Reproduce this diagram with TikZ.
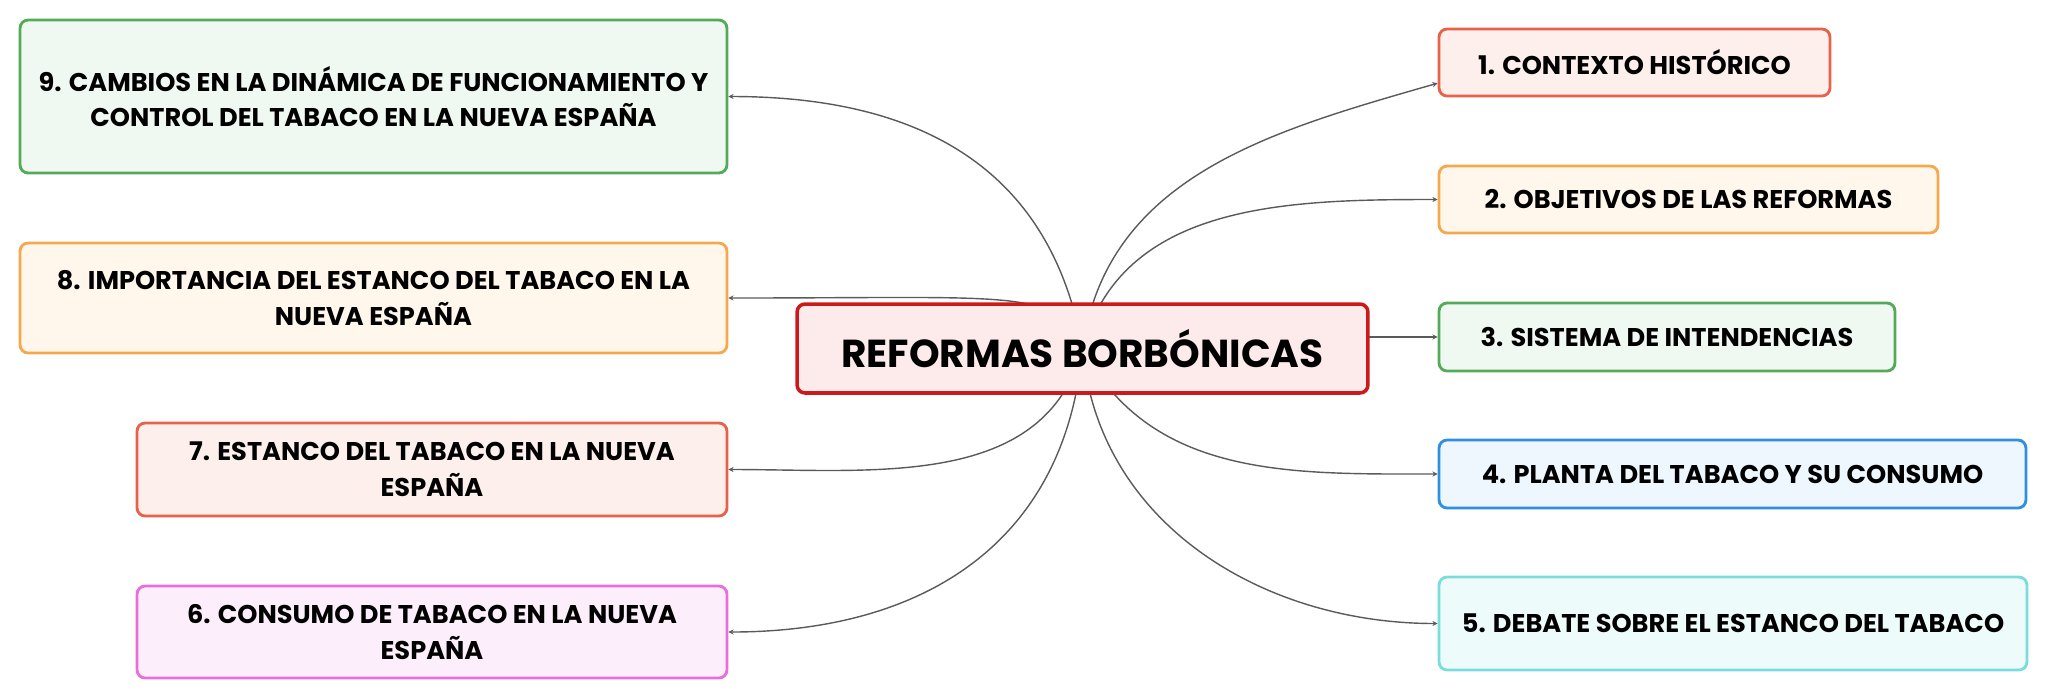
\documentclass[tikz,border=0pt]{standalone}
\usepackage{fontspec}
\setmainfont{Poppins}
\usepackage{xcolor}
\usetikzlibrary{arrows.meta,backgrounds,positioning}

\definecolor{lineGray}{HTML}{5A5A5A}
\definecolor{rootLine}{HTML}{CC1A1A}
\definecolor{rootFill}{HTML}{FDEAEA}
\definecolor{redLine}{HTML}{E8624A}
\definecolor{redFill}{HTML}{FDF0EC}
\definecolor{orangeLine}{HTML}{F4A94E}
\definecolor{orangeFill}{HTML}{FFF6EC}
\definecolor{greenLine}{HTML}{55AA5A}
\definecolor{greenFill}{HTML}{F0F9F1}
\definecolor{blueLine}{HTML}{2F8FE0}
\definecolor{blueFill}{HTML}{EEF6FE}
\definecolor{cyanLine}{HTML}{7ADCDC}
\definecolor{cyanFill}{HTML}{EEFBFB}
\definecolor{pinkLine}{HTML}{E86FD8}
\definecolor{pinkFill}{HTML}{FCEEFA}

\tikzset{
  topicbox/.style={draw=#1Line, fill=#1Fill, line width=1.6pt, rounded corners=0.16cm,
    align=center, inner sep=0pt, font=\fontsize{14.6}{20.4}\selectfont\bfseries},
  rootbox/.style={draw=rootLine, fill=rootFill, line width=2pt, rounded corners=0.16cm,
    align=center, inner sep=0pt, font=\fontsize{22.2}{26}\selectfont\bfseries},
  branch/.style={draw=lineGray, line width=0.8pt, -{Stealth[length=3pt,width=3pt]}}
}

\begin{document}
\begin{tikzpicture}[x=0.02cm, y=-0.02cm]
  \useasboundingbox (0,0) rectangle (2049,698);

  % Central topic
  \node [rootbox, minimum width=11.42cm, minimum height=1.78cm] (root) at (1082.5,348.5) {REFORMAS BORBÓNICAS};

  % Right side topics
  \node [topicbox=red, minimum width=7.82cm, minimum height=1.34cm] (contexto) at (1634.5,62.5) {1. CONTEXTO HISTÓRICO};
  \node [topicbox=orange, minimum width=9.98cm, minimum height=1.34cm] (objetivos) at (1688.5,199.5) {2. OBJETIVOS DE LAS REFORMAS};
  \node [topicbox=green, minimum width=9.12cm, minimum height=1.36cm] (intendencias) at (1667,337) {3. SISTEMA DE INTENDENCIAS};
  \node [topicbox=blue, minimum width=11.74cm, minimum height=1.36cm] (planta) at (1732.5,474) {4. PLANTA DEL TABACO Y SU CONSUMO};
  \node [topicbox=cyan, minimum width=11.76cm, minimum height=1.86cm] (debate) at (1733,623.5) {5. DEBATE SOBRE EL ESTANCO DEL TABACO};

  % Left side topics
  \node [topicbox=pink, minimum width=11.8cm, minimum height=1.84cm] (consumo) at (432,632) {6. CONSUMO DE TABACO EN LA NUEVA\\ESPAÑA};
  \node [topicbox=red, minimum width=11.8cm, minimum height=1.86cm] (estanco) at (432,469.5) {7. ESTANCO DEL TABACO EN LA NUEVA\\ESPAÑA};
  \node [topicbox=orange, minimum width=14.14cm, minimum height=2.2cm] (importancia) at (373.5,298) {8. IMPORTANCIA DEL ESTANCO DEL TABACO EN LA\\NUEVA ESPAÑA};
  \node [topicbox=green, minimum width=14.14cm, minimum height=3.06cm] (cambios) at (373.5,96.5) {9. CAMBIOS EN LA DINÁMICA DE FUNCIONAMIENTO Y\\CONTROL DEL TABACO EN LA NUEVA ESPAÑA};

  % Branches, drawn behind the boxes
  \begin{scope}[on background layer]
    \draw [branch] (root.center) to[out=82, in=-164] (contexto.186);
    \draw [branch] (root.center) to[out=75, in=180] (objetivos.west);
    \draw [branch] (root.center |- intendencias.west) -- (intendencias.west);
    \draw [branch] (root.center) to[out=-62, in=180] (planta.west);
    \draw [branch] (root.center) to[out=-85, in=180] (debate.west);
    \draw [branch] (root.center) to[out=-95, in=0, looseness=1.1] (consumo.east);
    \draw [branch] (root.center) to[out=-105, in=0] (estanco.east);
    \draw [branch] (root.center) .. controls +(-30,-60) and +(300,0) .. (importancia.east);
    \draw [branch] (root.center) to[out=100, in=0, looseness=1.1] (cambios.east);
  \end{scope}
\end{tikzpicture}
\end{document}
